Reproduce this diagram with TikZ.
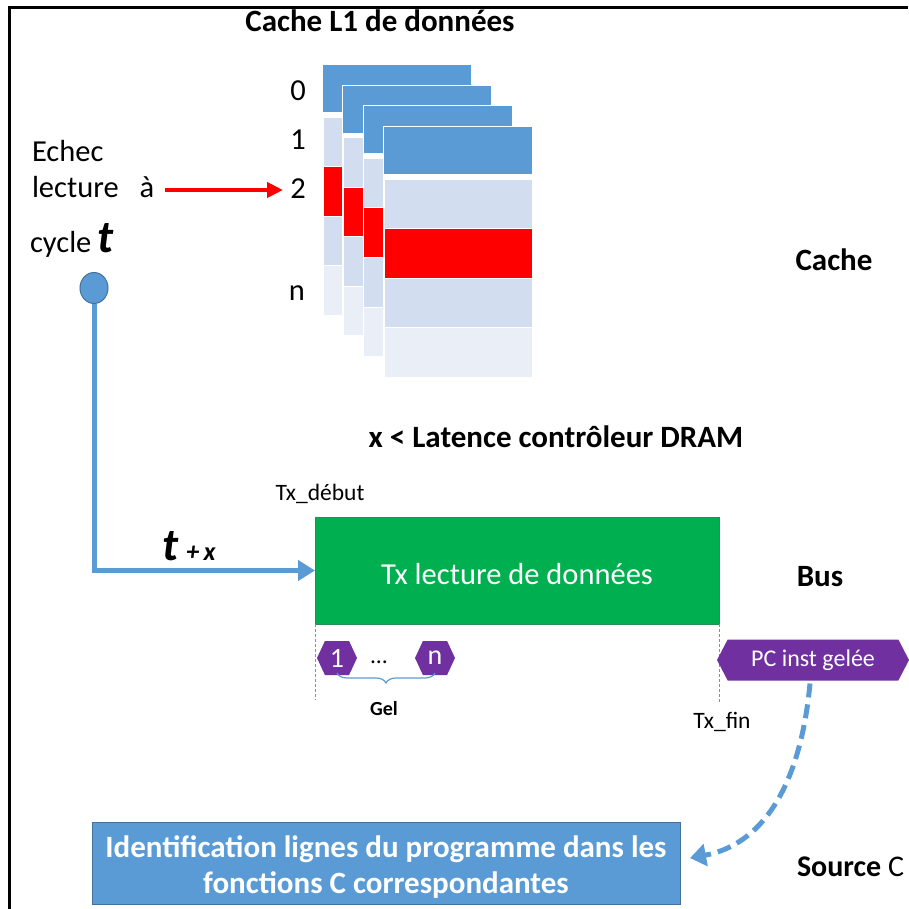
\documentclass[tikz,border=0pt]{standalone}
\usepackage{fontspec}
\setmainfont{Carlito}
\usetikzlibrary{arrows.meta,shapes.symbols,shapes.geometric,decorations.pathreplacing}
\definecolor{hdrblue}{HTML}{5B9BD5}
\definecolor{rowlight}{HTML}{D2DEEF}
\definecolor{rowpale}{HTML}{E9EEF7}
\definecolor{edgeblue}{HTML}{41719C}
\definecolor{busgreen}{HTML}{00B050}
\definecolor{busedge}{HTML}{2E8B57}
\definecolor{gelpurple}{HTML}{7030A0}
\definecolor{missred}{HTML}{FF0000}

\begin{document}
\begin{tikzpicture}[x=1pt,y=-1pt,
  every node/.style={inner sep=0pt,outer sep=0pt},
  headtxt/.style={font=\fontsize{31}{34}\selectfont\bfseries},
  plaintxt/.style={font=\fontsize{30.5}{34}\selectfont},
  smalltxt/.style={font=\fontsize{23.5}{26}\selectfont},
  bigt/.style={font=\fontsize{46}{48}\selectfont\bfseries\itshape},
  hexa/.style={shape=signal, signal to=west and east, signal pointer angle=130,
    fill=gelpurple, text=white, minimum width=40pt, minimum height=34pt},
  guide/.style={draw=hdrblue, line width=0.8pt, dash pattern=on 3pt off 2pt},
]
\useasboundingbox (0,0) rectangle (908,909);

% frame
\draw[line width=3pt] (9,909) -- (9,8) -- (908,8);

% stacked cache ways
\foreach \i in {0,...,3}{
  \pgfmathsetmacro{\cx}{323+20.4*\i}
  \pgfmathsetmacro{\cy}{65+20.7*\i}
  \fill[white] (\cx-1,\cy-1) rectangle (\cx+149,\cy+251);
  \fill[hdrblue] (\cx,\cy) rectangle (\cx+148,\cy+47);
  \filldraw[rowlight, draw=white, line width=0.8pt] (\cx,\cy+52) rectangle (\cx+148,\cy+101.5);
  \filldraw[missred, draw=white, line width=0.8pt] (\cx,\cy+101.5) rectangle (\cx+148,\cy+151);
  \filldraw[rowlight, draw=white, line width=0.8pt] (\cx,\cy+151) rectangle (\cx+148,\cy+200.5);
  \filldraw[rowpale, draw=white, line width=0.8pt] (\cx,\cy+200.5) rectangle (\cx+148,\cy+250);
}

% titles and side labels
\node[headtxt, anchor=base] (title) at (380,32) {Cache L1 de données};
\node[headtxt, anchor=base] (lblcache) at (834,270) {Cache};
\node[headtxt, anchor=base] (latency) at (556,447) {x < Latence contrôleur DRAM};
\node[headtxt, anchor=base] (lblbus) at (820,586) {Bus};
\node[anchor=base west] (lblsrc) at (797,876) {\fontsize{30}{34}\selectfont\textbf{Source} C};

% line indices
\node[plaintxt, anchor=base] (idx0) at (298,101) {0};
\node[plaintxt, anchor=base] (idx1) at (298,150) {1};
\node[plaintxt, anchor=base] (idx2) at (298,199) {2};
\node[plaintxt, anchor=base] (idxn) at (297,300) {n};

% miss annotation
\node[plaintxt, anchor=base west] (echec) at (32,162) {Echec};
\node[plaintxt, anchor=base west] (lecture) at (32,198) {lecture};
\node[plaintxt, anchor=base] (aword) at (147,198) {à};
\node[plaintxt, anchor=base west] (cycle) at (30,252) {cycle};
\node[bigt, anchor=base west] (tsym) at (97,252) {t};
\coordinate (missfrom) at (165,190);
\coordinate (missto) at (283,190);
\draw[missred, line width=4pt, -{Triangle[length=16pt,width=15pt]}] (missfrom) -- (missto);

% request dot and path to the bus
\node[ellipse, fill=hdrblue, draw=edgeblue, line width=1pt, minimum width=28pt, minimum height=31pt] (dot) at (94,288) {};
\node[draw=busedge, fill=busgreen, line width=0.8pt, minimum width=404pt, minimum height=107pt] (bar) at (517,570.5) {};
\node[plaintxt, text=white, anchor=base] (bartxt) at (517,584) {Tx lecture de données};
\draw[hdrblue, line width=5pt, -{Triangle[length=17pt,width=20pt]}] (dot.south) |- (bar.west);
\node[bigt, anchor=base] (tx) at (170,560) {t};
\node[font=\fontsize{26}{28}\selectfont\bfseries\itshape, anchor=base] (plusx) at (201,560) {+\,x};

% transaction bounds
\node[smalltxt, anchor=base] (txdeb) at (320,500) {Tx\_début};
\coordinate (debend) at (315,700);
\coordinate (finend) at (719,702);
\draw[guide] (bar.south west) -- (debend);
\draw[guide] (bar.south east) -- (finend);
\node[smalltxt, anchor=base] (txfin) at (722,728) {Tx\_fin};

% frozen cycles
\node[hexa, font=\fontsize{28}{30}\selectfont] (hex1) at (337,658) {1};
\node[hexa, font=\fontsize{28}{30}\selectfont] (hexn) at (435,658) {n};
\node[smalltxt] (dots) at (379,662) {…};
\draw[hdrblue, line width=1.2pt, decorate, decoration={brace, mirror, amplitude=10pt}] (hex1.south) ++(0,-2) coordinate (brl) -- (hexn.south |- brl);
\node[font=\fontsize{20}{22}\selectfont\bfseries] (gel) at (384,709) {Gel};

% frozen program counter
\node[shape=signal, signal to=west and east, signal pointer angle=125, fill=gelpurple, text=white,
  minimum width=192pt, minimum height=41pt, font=\fontsize{24}{26}\selectfont] (pc) at (813,660) {PC inst gelée};

% source mapping
\node[draw=edgeblue, fill=hdrblue, line width=0.8pt, minimum width=588pt, minimum height=82pt] (ident) at (386,863) {};
\node[text=white, align=center, font=\fontsize{31}{36}\selectfont\bfseries] (identtxt) at (386,867)
  {Identification lignes du programme dans les\\fonctions C correspondantes};
\coordinate (identtip) at (690,858);
\draw[hdrblue, line width=5pt, dash pattern=on 14pt off 7pt, -{Triangle[length=16pt,width=22pt]}]
  ([xshift=-3pt,yshift=-3pt]pc.south) .. controls (800,790) and (760,845) .. (identtip);
\end{tikzpicture}
\end{document}
